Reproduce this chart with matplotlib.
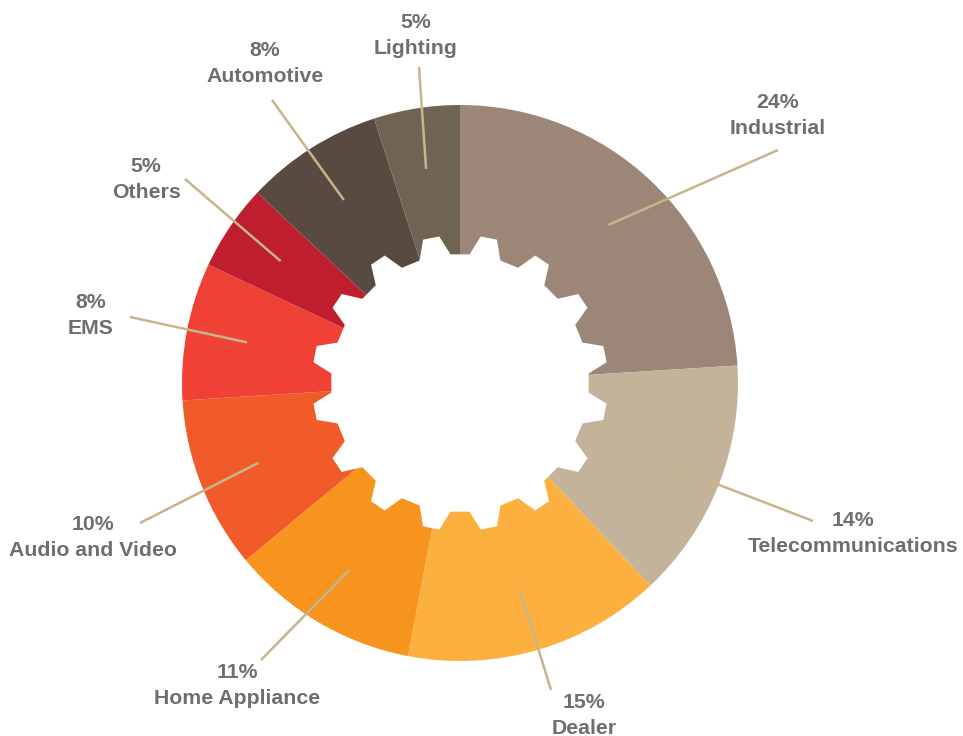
import numpy as np
import matplotlib.pyplot as plt
from matplotlib.patches import Polygon

# share of sales by market, clockwise from 12 o'clock
categories = ["Industrial", "Telecommunications", "Dealer", "Home Appliance",
              "Audio and Video", "EMS", "Others", "Automotive", "Lighting"]
shares = [24, 14, 15, 11, 10, 8, 5, 8, 5]
colors = ["#9c8677", "#c4b39b", "#fbb040", "#f7941e", "#f15a29",
          "#ef4136", "#be1e2d", "#594a41", "#6f6353"]

# label layout in image pixels (x, y of the percent line) and leader end near text
label_pos = [(778, 102), (853, 520), (584, 702), (237, 673), (93, 524),
             (91, 303), (146, 167), (265, 50), (416, 22)]
leader_end = [(778, 150), (813, 521), (551, 690), (261, 660), (140, 523),
              (130, 317), (185, 179), (272, 100), (419, 67)]

W, H = 963, 736
cx, cy, R = 460, H - 383, 278
text_color = "#6d6e71"
line_color = "#c8b48c"

fig = plt.figure(figsize=(W / 100, H / 100), dpi=100)
ax = fig.add_axes([0, 0, 1, 1])

wedges, _ = ax.pie(shares, colors=colors, startangle=90, counterclock=False,
                   center=(cx, cy), radius=R,
                   wedgeprops=dict(linewidth=0))

# gear shaped hole
n_teeth = 16
r_tip, r_root = 148, 129
pts = []
for k in range(n_teeth):
    t = np.deg2rad(90 - 11.25 - 22.5 * k)
    for a, r in [(7.0, r_root), (3.2, r_tip), (-3.2, r_tip), (-7.0, r_root)]:
        ang = t + np.deg2rad(a)
        pts.append((cx + r * np.cos(ang), cy + r * np.sin(ang)))
ax.add_patch(Polygon(pts, closed=True, facecolor="white", edgecolor="none", zorder=3))

for w, name, pct, (lx, ly), (ex, ey) in zip(wedges, categories, shares, label_pos, leader_end):
    mid = np.deg2rad((w.theta1 + w.theta2) / 2)
    ix, iy = cx + 0.78 * R * np.cos(mid), cy + 0.78 * R * np.sin(mid)
    ax.plot([ix, ex], [iy, H - ey], color=line_color, lw=1.8,
            solid_capstyle="butt", zorder=4)
    ax.text(lx, H - ly, f"{pct}%", ha="center", va="center", fontsize=15.3,
            fontweight="bold", color=text_color, family="Liberation Sans")
    ax.text(lx, H - ly - 26, name, ha="center", va="center", fontsize=15.3,
            fontweight="bold", color=text_color, family="Liberation Sans")

ax.set_xlim(0, W)
ax.set_ylim(0, H)
ax.set_aspect("equal")
ax.axis("off")

fig.savefig("out.png", dpi=100)
